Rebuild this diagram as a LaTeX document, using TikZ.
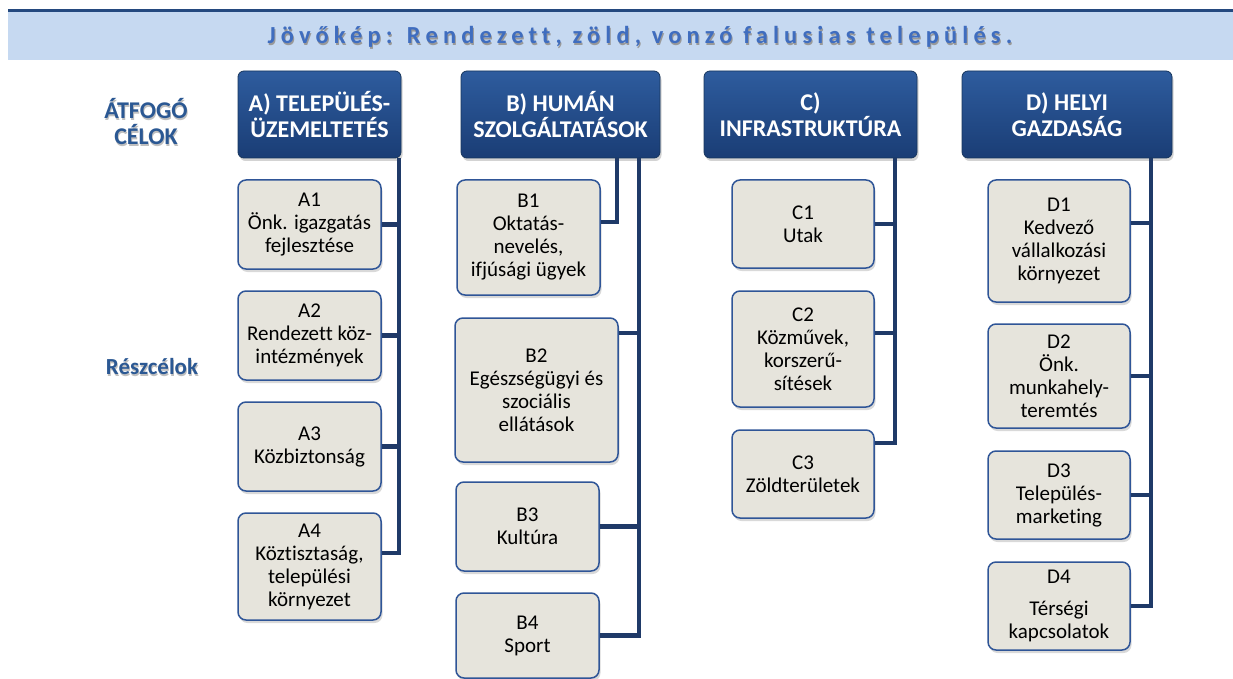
\documentclass[tikz,border=0pt]{standalone}
\usepackage{fontspec}
\setmainfont{Carlito}[Ligatures=NoCommon]
\usetikzlibrary{shadows,calc}
\definecolor{conncol}{HTML}{1F3A68}
\definecolor{hdrtop}{HTML}{2E5C9E}
\definecolor{hdrbot}{HTML}{1A3D75}
\definecolor{hdrline}{HTML}{17365D}
\definecolor{subfill}{HTML}{E6E4DC}
\definecolor{subline}{HTML}{2F5597}
\definecolor{bannerfill}{HTML}{C6D9F1}
\definecolor{bannerline}{HTML}{24497F}
\definecolor{titleblue}{HTML}{3F6DBF}
\definecolor{lblblue}{HTML}{2B5893}
\begin{document}
\begin{tikzpicture}[x=1pt,y=-1pt,
  conn/.style={draw=conncol,line width=4.5pt},
  hdr/.style={rounded corners=6pt, top color=hdrtop, bottom color=hdrbot, draw=hdrline,
    line width=0.8pt, text=white, font=\fontsize{24}{26}\selectfont\bfseries, align=center,
    inner sep=0pt, drop shadow={shadow xshift=1.5pt,shadow yshift=-3pt,opacity=0.35}},
  sub/.style={rounded corners=8pt, fill=subfill, draw=subline, line width=1.5pt,
    font=\fontsize{21}{23}\selectfont, align=center, inner sep=0pt,
    drop shadow={shadow xshift=1.5pt,shadow yshift=-3pt,opacity=0.3}},
  lbl/.style={text=lblblue, font=\fontsize{24}{26}\selectfont\bfseries, align=center},
  lblshadow/.style={text=black!25, font=\fontsize{24}{26}\selectfont\bfseries, align=center},
  titlefont/.style={font=\fontsize{24.5}{26}\selectfont\bfseries\addfontfeature{LetterSpace=21}}]
\useasboundingbox (0,0) rectangle (1233,679);
% banner
\fill[bannerfill] (8,12) rectangle (1233,60);
\draw[bannerline,line width=3pt] (8,11) -- (1233,11);
\node[titlefont, text=black!40] (titleshadow) at (641,38.6) {Jövőkép: Rendezett, zöld, vonzó falusias település.};
\node[titlefont, text=titleblue] (title) at (640,37) {Jövőkép: Rendezett, zöld, vonzó falusias település.};
% left labels
\node[lblshadow] (atfs) at (146.8,123.4) {ÁTFOGÓ\\CÉLOK};
\node[lbl] (atf) at (146,122) {ÁTFOGÓ\\CÉLOK};
\node[lblshadow, font=\fontsize{23}{25}\selectfont\bfseries] (reszs) at (152.8,368.4) {Részcélok};
\node[lbl, font=\fontsize{23}{25}\selectfont\bfseries] (resz) at (152,367) {Részcélok};
% headers
\node[hdr, minimum width=163pt, minimum height=87pt] (hA) at (319.5,114.5) {A) TELEPÜLÉS-\\ÜZEMELTETÉS};
\node[hdr, minimum width=199pt, minimum height=87pt] (hB) at (560.5,114.5) {B) HUMÁN\\SZOLGÁLTATÁSOK};
\node[hdr, minimum width=213pt, minimum height=87pt] (hC) at (810.5,114.5) {C)\\INFRASTRUKTÚRA};
\node[hdr, minimum width=210pt, minimum height=87pt] (hD) at (1067,114.5) {D) HELYI\\GAZDASÁG};
% sub boxes
\node[sub, minimum width=143pt, minimum height=89pt] (A1) at (309.5,224.5) {A1\\Önk. igazgatás\\fejlesztése};
\node[sub, minimum width=143pt, minimum height=89pt] (A2) at (309.5,335.5) {A2\\Rendezett köz-\\intézmények};
\node[sub, minimum width=143pt, minimum height=89pt] (A3) at (309.5,446.5) {A3\\Közbiztonság};
\node[sub, minimum width=143pt, minimum height=107pt] (A4) at (309.5,566.5) {A4\\Köztisztaság,\\települési\\környezet};
\node[sub, minimum width=143pt, minimum height=115pt] (B1) at (528.5,237.5) {B1\\Oktatás-\\nevelés,\\ifjúsági ügyek};
\node[sub, minimum width=163pt, minimum height=144pt] (B2) at (536.5,390) {B2\\Egészségügyi és\\szociális\\ellátások};
\node[sub, minimum width=143pt, minimum height=89pt] (B3) at (527.5,526.5) {B3\\Kultúra};
\node[sub, minimum width=143pt, minimum height=85pt] (B4) at (527.5,635.5) {B4\\Sport};
\node[sub, minimum width=142pt, minimum height=88pt] (C1) at (803,224) {C1\\Utak};
\node[sub, minimum width=142pt, minimum height=116pt] (C2) at (803,349) {C2\\Közművek,\\korszerű-\\sítések};
\node[sub, minimum width=142pt, minimum height=88pt] (C3) at (803,474) {C3\\Zöldterületek};
\node[sub, minimum width=142pt, minimum height=122pt] (D1) at (1059,241) {D1\\Kedvező\\vállalkozási\\környezet};
\node[sub, minimum width=142pt, minimum height=104pt] (D2) at (1059,376) {D2\\Önk.\\munkahely-\\teremtés};
\node[sub, minimum width=142pt, minimum height=88pt] (D3) at (1059,495) {D3\\Település-\\marketing};
\node[sub, minimum width=142pt, minimum height=88pt] (D4) at (1059,606) {D4\\[9pt]Térségi\\kapcsolatok};
% trunk x positions
\coordinate (tA) at (399,0);
\coordinate (tB1) at (617,0);
\coordinate (tB) at (639,0);
\coordinate (tC) at (895,0);
\coordinate (tD) at (1151,0);
% connectors A
\draw[conn] (hA.south -| tA) |- ([yshift=13.5pt]A4.east);
\draw[conn] (A1.east) -- (A1.east -| tA);
\draw[conn] (A2.east) -- (A2.east -| tA);
\draw[conn] (A3.east) -- (A3.east -| tA);
% connectors B
\draw[conn] (hB.south -| tB1) |- ([yshift=15.5pt]B1.east);
\draw[conn] (hB.south -| tB) |- (B4.east);
\draw[conn] ([yshift=57pt]B2.east) -- ([yshift=57pt]B2.east -| tB);
\draw[conn] (B3.east) -- (B3.east -| tB);
% connectors C
\draw[conn] (hC.south -| tC) |- ([yshift=31pt]C3.east);
\draw[conn] (C1.east) -- (C1.east -| tC);
\draw[conn] ([yshift=16pt]C2.east) -- ([yshift=16pt]C2.east -| tC);
% connectors D
\draw[conn] (hD.south -| tD) |- (D4.east);
\draw[conn] ([yshift=18pt]D1.east) -- ([yshift=18pt]D1.east -| tD);
\draw[conn] (D2.east) -- (D2.east -| tD);
\draw[conn] (D3.east) -- (D3.east -| tD);
\end{tikzpicture}
\end{document}
